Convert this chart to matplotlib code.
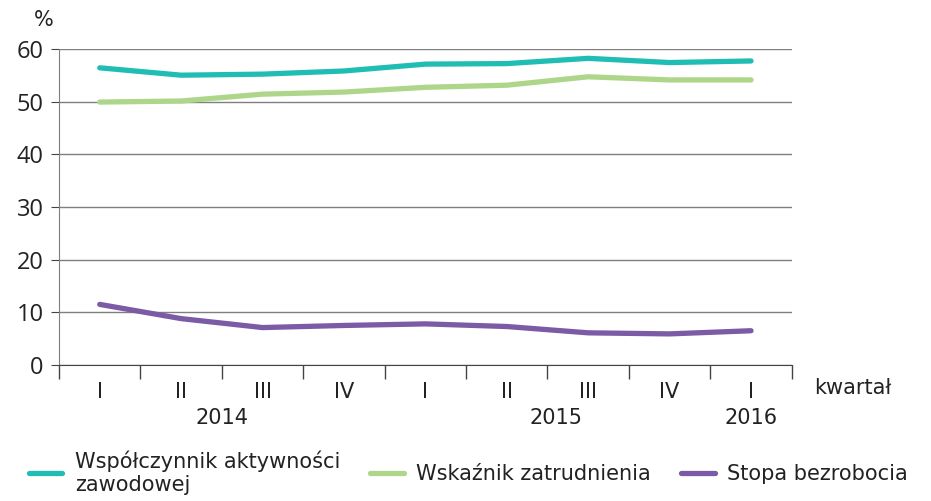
import numpy as np
import matplotlib.pyplot as plt
from matplotlib import transforms

# Data (quarters 2014 Q1 - 2016 Q1)
quarters = ['I', 'II', 'III', 'IV', 'I', 'II', 'III', 'IV', 'I']
years = ['2014', '2015', '2016']
year_pos = [2.0, 6.1, 8.5]
aktywnosc = [56.4, 55.0, 55.2, 55.8, 57.1, 57.2, 58.2, 57.4, 57.7]
zatrudnienie = [49.9, 50.1, 51.4, 51.8, 52.7, 53.1, 54.7, 54.1, 54.1]
bezrobocie = [11.5, 8.8, 7.1, 7.5, 7.8, 7.3, 6.1, 5.9, 6.5]

labels = ['Współczynnik aktywności\nzawodowej', 'Wskaźnik zatrudnienia', 'Stopa bezrobocia']
colors = ['#20bdb5', '#aed68a', '#7b5aa6']

plt.rcParams['font.family'] = ['DejaVu Sans']

fig = plt.figure(figsize=(9.31, 5.01), dpi=100)
ax = fig.add_axes([0.0634, 0.2715, 0.787, 0.631])

x = np.arange(len(quarters)) + 0.5
for vals, lab, col in zip([aktywnosc, zatrudnienie, bezrobocie], labels, colors):
    ax.plot(x, vals, color=col, lw=3.8, solid_capstyle='round', solid_joinstyle='round', label=lab)

ax.set_xlim(0, len(quarters))
ax.set_ylim(0, 60)
ax.set_yticks(range(0, 61, 10))
ax.grid(axis='y', color='#7f7f7f', lw=1)
ax.set_axisbelow(True)

# category boundaries as major ticks, labels centred as minor ticks
ax.set_xticks(np.arange(len(quarters) + 1))
ax.set_xticklabels([])
ax.set_xticks(x, minor=True)
ax.set_xticklabels(quarters, minor=True, fontsize=15, color='#222222')
ax.tick_params(axis='x', which='major', length=10, color='#444444', width=1)
ax.tick_params(axis='x', which='minor', length=0, pad=12)
ax.tick_params(axis='y', length=6, color='#444444', labelsize=17, pad=5, labelcolor='#222222')
for lbl in ax.get_yticklabels():
    lbl.set_family('Open Sans')

for s in ['top', 'right']:
    ax.spines[s].set_visible(False)
ax.spines['left'].set_color('#7f7f7f')
ax.spines['bottom'].set_color('#444444')

trans = transforms.blended_transform_factory(ax.transData, ax.transAxes)
for yr, p in zip(years, year_pos):
    ax.text(p, -0.168, yr, transform=trans, ha='center', va='center', fontsize=15, color='#222222')

ax.text(1.031, -0.073, 'kwartał', transform=ax.transAxes, ha='left', va='center', fontsize=15, color='#222222')
ax.text(-0.035, 1.092, '%', transform=ax.transAxes, ha='left', va='center', fontsize=15, color='#222222')

fig.legend(loc='lower left', bbox_to_anchor=(0.011, -0.025), ncol=3, frameon=False,
           fontsize=15, handlelength=1.6, columnspacing=1.45, handletextpad=0.6)
for t in fig.legends[0].get_texts():
    t.set_color('#222222')

fig.savefig('out.png', dpi=100)
